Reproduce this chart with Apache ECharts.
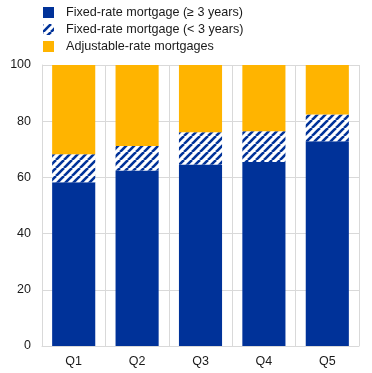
<!DOCTYPE html>
<html><head><meta charset="utf-8">
<script src="https://cdn.jsdelivr.net/npm/echarts@6/dist/echarts.min.js"></script>
<style>html,body{margin:0;padding:0;background:#fff}#c{width:372px;height:373px}</style>
</head><body><div id="c"></div>
<script>
var categories = ['Q1','Q2','Q3','Q4','Q5'];
var fixedLong = [58.3, 62.5, 64.6, 65.5, 72.9];
var fixedShort = [9.9, 8.7, 11.5, 10.9, 9.5];
var adjustable = [31.8, 28.8, 23.9, 23.6, 17.6];
var seriesNames = ['Fixed-rate mortgage (\u2265 3 years)', 'Fixed-rate mortgage (< 3 years)', 'Adjustable-rate mortgages'];

var BLUE = '#003299', YELLOW = '#FFB400';
function hatch() {
  var s = 8, c = document.createElement('canvas');
  c.width = s; c.height = s;
  var g = c.getContext('2d');
  g.fillStyle = '#fff'; g.fillRect(0,0,s,s);
  g.strokeStyle = BLUE; g.lineWidth = 2.6;
  for (var k = -1; k <= 1; k++) {
    g.beginPath(); g.moveTo(k*s, s); g.lineTo(k*s + s, 0); g.stroke();
  }
  return c;
}
var hatchColor = {image: hatch(), repeat: 'repeat'};

var chart = echarts.init(document.getElementById('c'), null, {renderer: 'canvas'});
var font = {fontFamily: 'Liberation Sans, Arial, sans-serif', fontSize: 12, color: '#1a1a1a'};
chart.setOption({
  animation: false,
  legend: {
    orient: 'vertical', left: 38, top: 1, itemWidth: 11, itemHeight: 11, itemGap: 4,
    textStyle: Object.assign({}, font, {fontSize: 12.6, padding: [0,0,0,7]}),
    data: seriesNames.map(function(n){ return {name: n, icon: 'rect'}; })
  },
  grid: {left: 42, right: 13, top: 65, bottom: 27, containLabel: false},
  xAxis: {
    type: 'category', data: categories, boundaryGap: true,
    axisLine: {lineStyle: {color: '#d9d9d9'}}, axisTick: {show: false},
    axisLabel: Object.assign({}, font, {fontSize: 12.5, margin: 9}),
    splitLine: {show: true, lineStyle: {color: '#d9d9d9'}}
  },
  yAxis: {
    type: 'value', min: 0, max: 100, interval: 20,
    axisLine: {show: true, lineStyle: {color: '#d9d9d9'}}, axisTick: {show: false},
    axisLabel: Object.assign({}, font, {fontSize: 12.5, margin: 11}),
    splitLine: {show: true, lineStyle: {color: '#d9d9d9'}}
  },
  series: [
    {name: seriesNames[0], type: 'bar', stack: 's', data: fixedLong, barCategoryGap: '32%', itemStyle: {color: BLUE}},
    {name: seriesNames[1], type: 'bar', stack: 's', data: fixedShort, itemStyle: {color: hatchColor}},
    {name: seriesNames[2], type: 'bar', stack: 's', data: adjustable, itemStyle: {color: YELLOW}}
  ]
});
</script></body></html>
